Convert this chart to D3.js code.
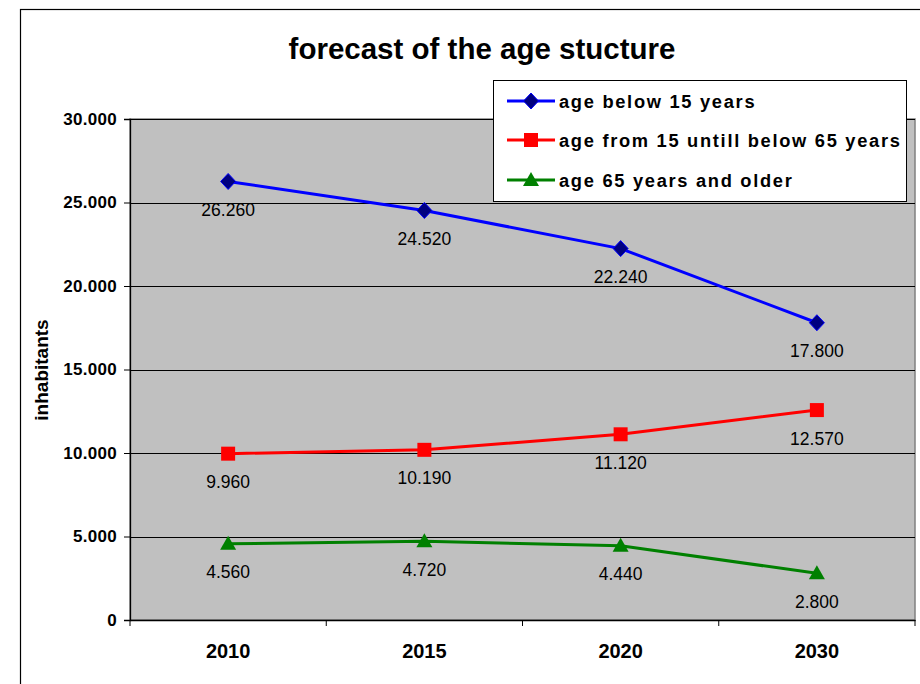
<!DOCTYPE html>
<html><head><meta charset="utf-8">
<script src="https://cdn.jsdelivr.net/npm/d3@7"></script>
<style>body{margin:0;background:#fff}svg{display:block;font-family:"Liberation Sans",Arial,sans-serif}</style>
</head><body>
<svg id="c" width="920" height="684"></svg>
<script>
const categories = ["2010","2015","2020","2030"];
const seriesNames = ["age below 15 years","age from 15 untill below 65 years","age 65 years and older"];
const below15 = [26260,24520,22240,17800];
const from15to65 = [9960,10190,11120,12570];
const over65 = [4560,4720,4440,2800];
const yTicks = [0,5000,10000,15000,20000,25000,30000];
const yTickLabels = ["0","5.000","10.000","15.000","20.000","25.000","30.000"];

const series = [
  {name: seriesNames[0], values: below15, color:"#0000ff", marker:"diamond"},
  {name: seriesNames[1], values: from15to65, color:"#ff0000", marker:"square"},
  {name: seriesNames[2], values: over65, color:"#008000", marker:"triangle"}
];

const FF = "'Liberation Sans',Arial,sans-serif";
const svg = d3.select("#c");
const L=130, R=915, T=119, B=620;

// outer chart border
svg.append("rect").attr("x",20.5).attr("y",9.5).attr("width",1000).attr("height",1000)
  .attr("fill","#fff").attr("stroke","#000").attr("stroke-width",1.2);

const x = d3.scaleBand().domain(categories).range([L,R]).padding(0);
const y = d3.scaleLinear().domain([0,30000]).range([B,T]);

// plot area
svg.append("rect").attr("x",L).attr("y",T).attr("width",R-L).attr("height",B-T)
  .attr("fill","#c0c0c0").attr("stroke","#808080").attr("stroke-width",1.5);

// gridlines
svg.append("g").selectAll("line").data(yTicks.slice(1)).join("line")
  .attr("x1",L).attr("x2",R).attr("y1",d=>Math.round(y(d))+0.5).attr("y2",d=>Math.round(y(d))+0.5)
  .attr("stroke","#000").attr("stroke-width",1);

// y axis
const yAxis = d3.axisLeft(y).tickValues(yTicks).tickFormat((d,i)=>yTickLabels[i]).tickSize(6).tickPadding(7);
const gy = svg.append("g").attr("transform",`translate(${L},0)`).call(yAxis);
gy.select(".domain").attr("stroke","#000").attr("stroke-width",1.3);
gy.selectAll(".tick line").attr("stroke","#000");
gy.selectAll("text").attr("font-size",17).attr("font-weight","bold").attr("fill","#000")
  .attr("letter-spacing",0.3).attr("font-family",FF);

// x axis
const xAxis = d3.axisBottom(x).tickSize(0).tickPadding(24);
const gx = svg.append("g").attr("transform",`translate(0,${B})`).call(xAxis);
gx.select(".domain").attr("stroke","#000").attr("stroke-width",1.3);
gx.selectAll("text").attr("font-size",20).attr("font-weight","bold").attr("fill","#000")
  .attr("font-family",FF);
// category boundary ticks
const bounds = categories.map(c=>x(c)).concat([x(categories[categories.length-1])+x.bandwidth()]);
svg.append("g").selectAll("line").data(bounds).join("line")
  .attr("x1",d=>d).attr("x2",d=>d).attr("y1",B).attr("y2",B+6).attr("stroke","#000").attr("stroke-width",1);

// lines and markers
const cx = c => x(c)+x.bandwidth()/2;
const line = d3.line().x((d,i)=>cx(categories[i])).y(d=>y(d));
function drawMarker(g, type){
  if(type==="diamond"){
    g.append("path").attr("d","M0,-8L7.5,0L0,8L-7.5,0Z").attr("fill","#000080").attr("stroke","#0000ff").attr("stroke-width",1);
  } else if(type==="square"){
    g.append("rect").attr("x",-7).attr("y",-7).attr("width",14).attr("height",14).attr("fill","#ff0000");
  } else {
    g.append("path").attr("d","M0,-8L8,6L-8,6Z").attr("fill","#008000");
  }
}
const fmt = v => d3.format(",")(v).replace(/,/g,".");
series.forEach(s=>{
  svg.append("path").datum(s.values).attr("d",line).attr("fill","none")
    .attr("stroke",s.color).attr("stroke-width",3);
  s.values.forEach((v,i)=>{
    const g = svg.append("g").attr("transform",`translate(${cx(categories[i])},${y(v)})`);
    drawMarker(g,s.marker);
    svg.append("text").attr("x",cx(categories[i])).attr("y",y(v)+34.5).attr("text-anchor","middle")
      .attr("font-size",17.5).attr("fill","#000").text(fmt(v));
  });
});

// title
svg.append("text").attr("x",482).attr("y",59).attr("text-anchor","middle")
  .attr("font-size",29.5).attr("font-weight","bold").text("forecast of the age stucture");

// y label
svg.append("text").attr("transform","translate(48,370) rotate(-90)").attr("text-anchor","middle")
  .attr("font-size",19).attr("font-weight","bold").text("inhabitants");

// legend
const lg = svg.append("g");
lg.append("rect").attr("x",493.5).attr("y",80.5).attr("width",413).attr("height",121)
  .attr("fill","#fff").attr("stroke","#000").attr("stroke-width",1);
const rows=[101,140,180];
series.forEach((s,i)=>{
  lg.append("line").attr("x1",507).attr("x2",555).attr("y1",rows[i]).attr("y2",rows[i])
    .attr("stroke",s.color).attr("stroke-width",3);
  const g = lg.append("g").attr("transform",`translate(531,${rows[i]})`);
  drawMarker(g,s.marker);
  lg.append("text").attr("x",559).attr("y",rows[i]+6.5).attr("font-size",18.3).attr("font-weight","bold")
    .attr("letter-spacing",1.7).text(s.name);
});
</script>
</body></html>
